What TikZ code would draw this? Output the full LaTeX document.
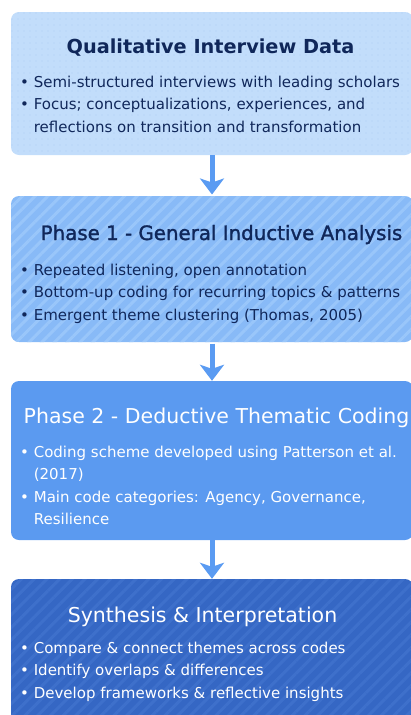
\documentclass[tikz,border=0pt]{standalone}
\usepackage{fontspec}
\setmainfont{DejaVu Sans}
\newfontfamily\semibold[FakeBold=1.5]{DejaVu Sans}
\usetikzlibrary{arrows.meta,patterns.meta}

\definecolor{dataFill}{HTML}{C2DDFB}
\definecolor{dataDots}{HTML}{ADCDF3}
\definecolor{inducFill}{HTML}{88BAF7}
\definecolor{inducLine}{HTML}{99C6FA}
\definecolor{deducFill}{HTML}{5B9AF0}
\definecolor{synthFill}{HTML}{3567C4}
\definecolor{synthLine}{HTML}{3E70CB}
\definecolor{flowBlue}{HTML}{5A9BF2}
\definecolor{navy}{HTML}{10275A}

\tikzset{
  box/.style={rounded corners=8pt, minimum width=402pt, inner sep=0pt},
  headline/.style={anchor=base, font=\fontsize{20.5}{24}\selectfont},
  body/.style={anchor=base west, align=left, inner sep=0pt,
    font=\fontsize{15}{22.5}\selectfont},
  flow/.style={draw=flowBlue, line width=5pt,
    -{Stealth[width=24pt,length=16pt,inset=4pt]}},
}

\begin{document}
\begin{tikzpicture}[
      x = 1pt,
      y = -1pt,
  ]

  \useasboundingbox (0,0) rectangle (411,715);

  % the four stages
  \node[box, minimum height=143pt, preaction={fill=dataFill},
    pattern={Dots[distance=6pt,radius=0.55pt]}, pattern color=dataDots]
    (data) at (212,83.5) {};
  \node[box, minimum height=146pt, preaction={fill=inducFill},
    pattern={Lines[angle=45,distance=9pt,line width=3pt]}, pattern color=inducLine]
    (induc) at (212,269) {};
  \node[box, minimum height=159pt, fill=deducFill]
    (deduc) at (212,460.5) {};
  \node[box, minimum height=143pt, preaction={fill=synthFill},
    pattern={Lines[angle=45,distance=9pt,line width=3pt]}, pattern color=synthLine]
    (synth) at (212,650.5) {};

  \draw[flow] (data) -- (induc);
  \draw[flow] (induc) -- (deduc);
  \draw[flow] (deduc) -- (synth);

  % titles
  \node[headline, text=navy, font=\fontsize{19.3}{24}\bfseries] (dataT) at (210.5,53)
    {Qualitative Interview Data};
  \node[headline, text=navy, font=\fontsize{19.8}{24}\semibold] (inducT) at (221.5,240)
    {Phase 1 - General Inductive Analysis};
  \node[headline, text=white] (deducT) at (216.5,423)
    {Phase 2 - Deductive Thematic Coding};
  \node[headline, text=white] (synthT) at (202.5,622)
    {Synthesis \& Interpretation};

  % bullet lists (anchored on the last line)
  \node[body, text=navy] (dataB) at (20,132)
    {\textbullet\ Semi-structured interviews with leading scholars\\
     \textbullet\ Focus; conceptualizations, experiences, and\\
     \hphantom{\textbullet\ }reflections on transition and transformation};
  \node[body, text=navy] (inducB) at (20,320)
    {\textbullet\ Repeated listening, open annotation\\
     \textbullet\ Bottom-up coding for recurring topics \& patterns\\
     \textbullet\ Emergent theme clustering (Thomas, 2005)};
  \node[body, text=white] (deducB) at (20,524.5)
    {\textbullet\ Coding scheme developed using Patterson et al.\\
     \hphantom{\textbullet\ }(2017)\\
     \textbullet\ Main code categories: Agency, Governance,\\
     \hphantom{\textbullet\ }Resilience};
  \node[body, text=white] (synthB) at (20,698)
    {\textbullet\ Compare \& connect themes across codes\\
     \textbullet\ Identify overlaps \& differences\\
     \textbullet\ Develop frameworks \& reflective insights};

\end{tikzpicture}
\end{document}
